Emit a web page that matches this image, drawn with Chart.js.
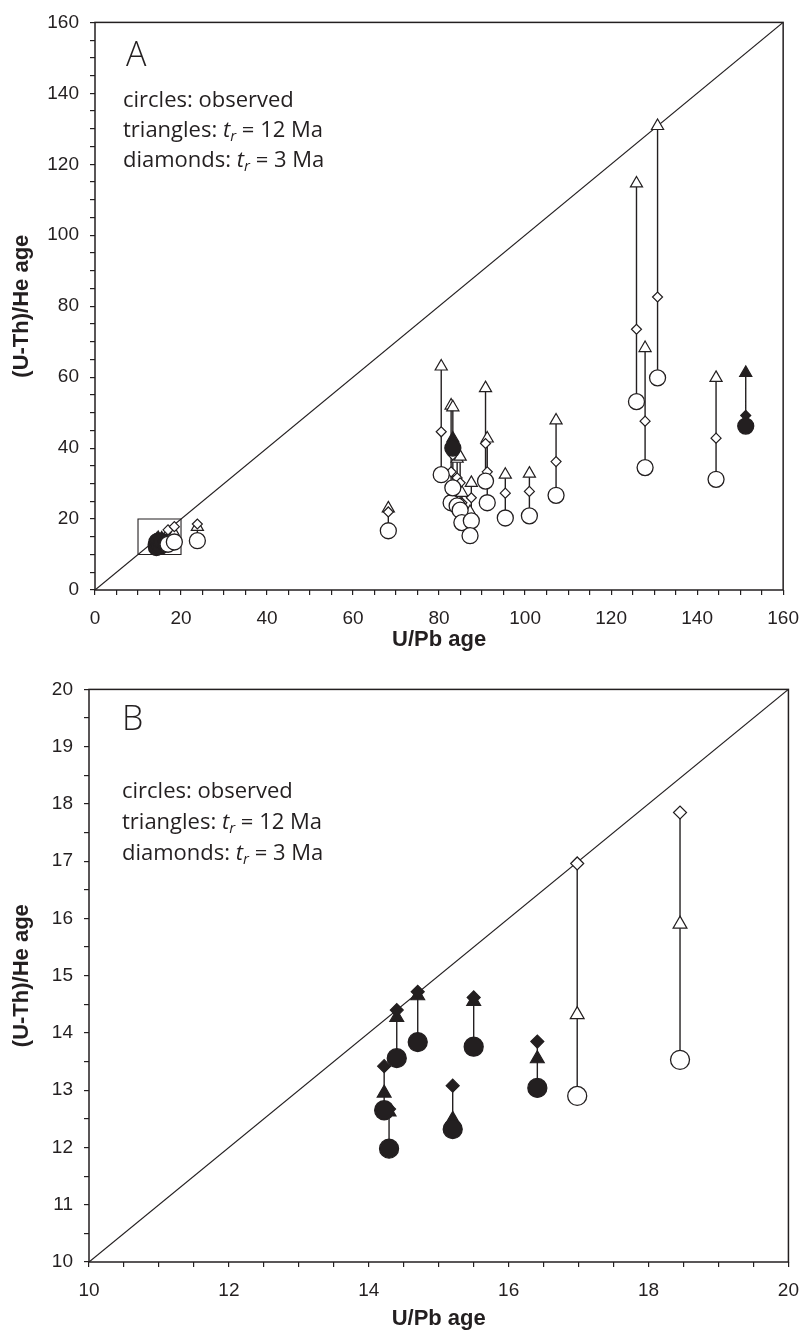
<!DOCTYPE html>
<html>
<head>
<meta charset="utf-8">
<script src="https://cdn.jsdelivr.net/npm/chart.js@4.4.1/dist/chart.umd.min.js"></script>
<style>
  body { margin: 0; background: #fff; width: 811px; height: 1334px; position: relative; overflow: hidden; }
  canvas { position: absolute; left: 0; }
  .panel { position: absolute; font-family: 'Open Sans', sans-serif; font-size: 34px; font-weight: 300; color: #231f20; }
  .note { position: absolute; font-family: 'Open Sans', sans-serif; font-size: 22px; line-height: 30px; color: #231f20; white-space: nowrap; }
  .note sub { font-size: 15px; line-height: 0; vertical-align: -4px; font-style: italic; }
</style>
</head>
<body>
<canvas id="chart-a" width="811" height="667" style="top:0"></canvas>
<canvas id="chart-b" width="811" height="667" style="top:667px"></canvas>

<div class="panel" style="left:126px; top:30px">A</div>
<div class="note" style="left:123px; top:83px">circles: observed<br>triangles: <i>t</i><sub>r</sub> = 12 Ma<br>diamonds: <i>t</i><sub>r</sub> = 3 Ma</div>

<div class="panel" style="left:122px; top:694px">B</div>
<div class="note" style="left:122px; top:774px; line-height:31px">circles: observed<br>triangles: <i>t</i><sub>r</sub> = 12 Ma<br>diamonds: <i>t</i><sub>r</sub> = 3 Ma</div>

<script>
"use strict";
const INK = '#231f20';

// young grains (shown in both panels)
const youngUPb      = [14.22, 14.29, 14.40, 14.70, 15.20, 15.50, 16.41, 16.98, 18.45];
const youngObserved = [12.65, 11.98, 13.56, 13.84, 12.32, 13.76, 13.04, 12.90, 13.53];
const youngTr12     = [12.95, 12.62, 14.27, 14.65, 12.49, 14.55, 13.55, 14.32, 15.90];
const youngTr3      = [13.42, 12.67, 14.40, 14.72, 13.08, 14.62, 13.85, 16.96, 17.85];
const youngFilled   = [true, true, true, true, true, true, true, false, false];

// older grains (panel A only)
const oldUPb      = [23.8, 68.2, 80.5, 82.8, 83.2, 83.2, 84.2, 84.9, 85.3, 87.5, 87.2, 90.8, 91.2, 95.4, 101.0, 107.2, 125.9, 127.9, 130.8, 144.4, 151.3];
const oldObserved = [13.9, 16.7, 32.5, 24.6, 28.8, 40.0, 23.7, 22.5, 19.0, 19.5, 15.3, 30.7, 24.6, 20.3, 20.9, 26.7, 53.1, 34.5, 59.8, 31.2, 46.2];
const oldTr12     = [17.8, 23.0, 63.0, 52.0, 51.5, 42.7, 37.0, 37.6, 27.4, 30.2, 22.0, 56.9, 42.7, 32.5, 32.8, 47.8, 114.6, 68.2, 130.8, 59.8, 61.2];
const oldTr3      = [18.6, 22.0, 44.6, 33.3, 38.1, 41.8, 31.6, 30.2, 24.6, 26.0, 19.5, 41.3, 33.3, 27.3, 27.8, 36.2, 73.5, 47.6, 82.6, 42.8, 49.2];
const oldFilled   = [false, false, false, false, false, true, false, false, false, false, false, false, false, false, false, false, false, false, false, false, true];

// outline of the panel B window drawn inside panel A
const zoomBoxX = [10, 20, 20, 10, 10];
const zoomBoxY = [10, 10, 20, 20, 10];

const tickFont = { family: "'Liberation Sans Narrow', 'Liberation Sans', sans-serif", size: 19 };
const titleFont = { family: "'Liberation Sans Narrow', 'Liberation Sans', sans-serif", size: 22, weight: 'bold' };

function points(xs, ys) {
    return xs.map((x, i) => ({ x: x, y: ys[i] }));
}

// vertical stems from the observed age up to the highest modelled age
function stems(xs, lows, a, b) {
    const out = [];
    xs.forEach((x, i) => {
        out.push({ x: x, y: lows[i] });
        out.push({ x: x, y: Math.max(a[i], b[i]) });
        out.push({ x: x, y: null });
    });
    return out;
}

const frame = {
    id: 'frame',
    afterDraw(chart) {
        const { ctx, chartArea: a } = chart;
        ctx.save();
        ctx.strokeStyle = INK;
        ctx.lineWidth = 1.5;
        ctx.strokeRect(a.left, a.top, a.right - a.left, a.bottom - a.top);
        ctx.restore();
    }
};

function axis(min, max, step, labelEvery, title, opts) {
    return {
        type: 'linear',
        min: min,
        max: max,
        position: opts.position,
        ticks: {
            stepSize: step,
            autoSkip: false,
            maxRotation: 0,
            font: tickFont,
            color: INK,
            padding: opts.pad,
            callback: v => (Math.abs(v / labelEvery - Math.round(v / labelEvery)) < 1e-6 ? v : '')
        },
        grid: { drawOnChartArea: false, drawTicks: true, tickLength: 5, color: INK, lineWidth: 1.2 },
        border: { display: false },
        title: { display: true, text: title, font: titleFont, color: INK, padding: opts.titlePad },
        afterFit: opts.fit
    };
}

function create_panel(ctx, p) {
    const fills = p.filled.map(f => (f ? INK : '#ffffff'));
    const datasets = [
        {
            label: 'observed', data: points(p.x, p.observed), order: 0,
            pointStyle: 'circle', pointRadius: p.rc, pointBorderWidth: 1.3,
            pointBorderColor: INK, pointBackgroundColor: fills
        },
        {
            label: 'tr = 3 Ma', data: points(p.x, p.tr3), order: 1,
            pointStyle: 'rectRot', pointRadius: p.rd, pointBorderWidth: 1.2,
            pointBorderColor: INK, pointBackgroundColor: fills
        },
        {
            label: 'tr = 12 Ma', data: points(p.x, p.tr12), order: 2,
            pointStyle: 'triangle', pointRadius: p.rt, pointBorderWidth: 1.2,
            pointBorderColor: INK, pointBackgroundColor: fills
        },
        {
            label: 'stems', data: stems(p.x, p.observed, p.tr12, p.tr3), order: 3,
            showLine: true, spanGaps: false, pointRadius: 0, borderWidth: 1.4, borderColor: INK
        },
        {
            label: '1:1', data: [{ x: p.min, y: p.min }, { x: p.max, y: p.max }], order: 4,
            showLine: true, pointRadius: 0, borderWidth: 1.2, borderColor: INK
        }
    ];
    if (p.box) {
        datasets.push({
            label: 'window', data: points(p.box[0], p.box[1]), order: 5,
            showLine: true, pointRadius: 0, borderWidth: 1.1, borderColor: INK
        });
    }
    const lh = titleFont.size * 1.2;
    new Chart(ctx, {
        type: 'scatter',
        data: { datasets: datasets },
        options: {
            responsive: false,
            animation: false,
            events: [],
            layout: { padding: { top: p.top, right: 19, left: 0, bottom: 0 } },
            plugins: { legend: { display: false }, tooltip: { enabled: false } },
            scales: {
                x: axis(p.min, p.max, p.step, p.xLabelEvery, 'U/Pb age', {
                    position: 'bottom', pad: 12,
                    titlePad: { top: 0, bottom: p.xh - p.titleBelow - lh / 2 },
                    fit: s => { s.height = p.xh; }
                }),
                y: axis(p.min, p.max, p.step, p.yLabelEvery, '(U-Th)/He age', {
                    position: 'left', pad: 11, titlePad: { top: 9, bottom: 0 },
                    fit: s => { s.width = p.yw; }
                })
            }
        },
        plugins: [frame]
    });
}

create_panel(document.getElementById('chart-a'), {
    x: oldUPb.concat(youngUPb),
    observed: oldObserved.concat(youngObserved),
    tr12: oldTr12.concat(youngTr12),
    tr3: oldTr3.concat(youngTr3),
    filled: oldFilled.concat(youngFilled),
    min: 0, max: 160, step: 5, xLabelEvery: 20, yLabelEvery: 20,
    rc: 8, rd: 5, rt: 7,
    top: 16, xh: 77, yw: 95, titleBelow: 50,
    box: [zoomBoxX, zoomBoxY]
});

create_panel(document.getElementById('chart-b'), {
    x: youngUPb,
    observed: youngObserved,
    tr12: youngTr12,
    tr3: youngTr3,
    filled: youngFilled,
    min: 10, max: 20, step: 0.5, xLabelEvery: 2, yLabelEvery: 1,
    rc: 9.5, rd: 6.5, rt: 8,
    top: 12, xh: 72, yw: 89, titleBelow: 57
});
</script>
</body>
</html>
